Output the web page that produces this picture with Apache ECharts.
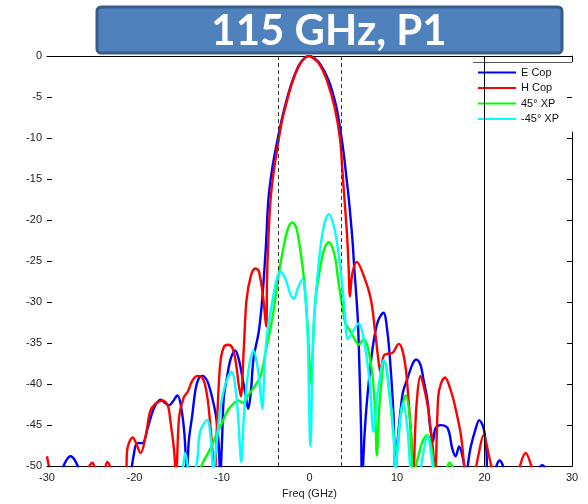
<!DOCTYPE html>
<html>
<head>
<meta charset="utf-8">
<script src="https://cdn.jsdelivr.net/npm/echarts@6/dist/echarts.min.js"></script>
<style>
html,body{margin:0;padding:0;background:#fff;}
#c{width:588px;height:504px;}
</style>
</head>
<body>
<div id="c"></div>
<script>
// ---- data (x = Freq in GHz, y = level in dB) ----
const titleText = '115 GHz, P1';
const xTicks = [-30, -20, -10, 0, 10, 20, 30];
const yTicks = [0, -5, -10, -15, -20, -25, -30, -35, -40, -45, -50];
const seriesNames = ['E Cop', 'H Cop', '45\u00b0 XP', '-45\u00b0 XP'];
const dashedMarkers = [-3.6, 3.6];
const solidMarker = 20;

const eCop = [[-30,-56],[-28.8,-53],[-28.3,-50.6],[-27.8,-49.3],[-27.3,-48.8],[-26.8,-49.3],[-26.3,-50.6],[-25.8,-53],[-23,-56],[-21,-53],[-20.45,-51],[-20.1,-48.7],[-19.7,-47.2],[-19.1,-47.2],[-18.5,-45.4],[-17.8,-43],[-17.0,-41.9],[-16.5,-42.3],[-16.1,-42.6],[-15.6,-42.1],[-15.1,-41.4],[-14.7,-42.6],[-14.3,-46],[-14.0,-51],[-13.8,-47],[-13.4,-43.8],[-13.0,-40.5],[-12.6,-39.2],[-12.2,-39],[-11.7,-39.6],[-11.3,-40.9],[-10.7,-43.8],[-10.4,-47],[-10.2,-51],[-10.0,-47],[-9.8,-41.7],[-9.4,-39],[-9.0,-36.9],[-8.5,-35.9],[-8.1,-36.9],[-7.7,-39],[-7.3,-41.4],[-7.0,-43],[-6.7,-40.9],[-6.4,-36.9],[-5.8,-33.6],[-5.4,-29.6],[-5.0,-23.5],[-4.7,-17.5],[-4.3,-14],[-3.8,-11],[-3.2,-7.9],[-2.7,-5.7],[-2.0,-3.2],[-1.2,-1.1],[-0.5,-0.2],[0,0],[0.6,-0.3],[1.3,-1.1],[2.2,-3],[3.0,-5.9],[3.5,-8.8],[3.9,-11.8],[4.2,-14.6],[4.5,-17.5],[4.9,-22.3],[5.1,-25.6],[5.5,-31.7],[5.7,-37.7],[5.9,-45.8],[6.0,-52],[6.3,-46],[6.6,-41.7],[7.2,-35.7],[7.8,-32.4],[8.45,-31.3],[8.9,-33.6],[9.25,-37.7],[9.6,-43.8],[9.8,-51],[10.1,-46.5],[10.4,-43.3],[10.7,-40.9],[11.2,-39.3],[11.8,-37.5],[12.2,-37],[12.7,-37.7],[13.0,-39.3],[13.5,-42.1],[13.8,-45.4],[14.1,-47],[14.4,-45.4],[15.0,-45],[15.8,-45.4],[16.3,-47.8],[16.7,-48.8],[17.1,-47.6],[17.6,-49.4],[17.85,-51],[18.4,-47.8],[19.0,-45.4],[19.4,-44.4],[19.9,-45.4],[20.2,-47.8],[20.45,-51],[21.1,-50.6],[21.7,-49.3],[22.3,-50.6],[23,-55],[25.5,-55],[26.1,-50.6],[26.6,-49.9],[27.1,-50.6],[28,-55],[30,-56]];

const hCop = [[-30,-48.8],[-29.6,-50.6],[-28,-54],[-26,-54],[-25.4,-50.6],[-24.8,-49.6],[-24.3,-50.6],[-23.6,-50.6],[-23.1,-49.5],[-22.6,-50.6],[-21.8,-53],[-21.0,-51],[-20.8,-47.8],[-20.2,-46.5],[-19.9,-47],[-19.3,-48.4],[-18.7,-46.2],[-18.2,-43.3],[-17.6,-42.4],[-16.8,-42],[-16.2,-42.6],[-15.9,-44.5],[-15.5,-47.8],[-15.25,-51],[-14.9,-44],[-14.4,-41.7],[-13.9,-40.9],[-13.4,-39.6],[-12.8,-39],[-12.2,-39.3],[-11.7,-41.4],[-11.3,-45.4],[-11.0,-49.4],[-10.85,-51],[-10.5,-43],[-10.2,-37.5],[-9.8,-35.5],[-9.3,-35.2],[-8.8,-35.6],[-8.4,-37.5],[-8.1,-40],[-7.85,-41.5],[-7.5,-35.5],[-7.2,-29.8],[-6.7,-26.8],[-6.2,-25.9],[-5.8,-26.2],[-5.3,-29.4],[-4.95,-33],[-4.85,-27],[-4.7,-22.3],[-4.45,-17.5],[-4.1,-14.2],[-3.7,-11.4],[-3.2,-8.2],[-2.75,-6.2],[-2.0,-3.3],[-1.2,-1.2],[-0.6,-0.3],[-0.15,0],[0.5,-0.3],[1.2,-1.1],[2.0,-3.0],[2.9,-6.4],[3.5,-10.2],[3.75,-13.8],[4.0,-17.5],[4.3,-22],[4.48,-26],[4.62,-29.3],[4.9,-26.5],[5.4,-25.1],[6.2,-26.8],[7.0,-29.6],[7.5,-33.6],[7.9,-37.3],[8.1,-38.5],[8.5,-36.5],[9.0,-36.3],[9.5,-36.2],[10.2,-35.1],[10.6,-35.8],[11.0,-38.1],[11.3,-41.7],[11.6,-46],[11.85,-51],[12.2,-43],[12.7,-39],[13.1,-40.5],[13.5,-42.6],[14.1,-47.8],[14.35,-51],[14.7,-41.7],[15.0,-40],[15.5,-39.2],[16.0,-40.3],[16.5,-42.1],[17.3,-46.2],[17.8,-51],[18.4,-54],[18.9,-51],[19.3,-48.7],[19.9,-46.2],[20.5,-48.7],[21.0,-51],[22,-55],[23.3,-54],[23.9,-50.6],[24.7,-48.4],[25.5,-50.6],[26.2,-54],[30,-56]];

const xp45 = [[-14,-56],[-13,-52],[-12.5,-50.3],[-12.1,-49.4],[-11.3,-47.8],[-10.5,-45.8],[-9.9,-44.5],[-9.4,-43.3],[-8.8,-42.5],[-8.1,-42],[-7.6,-42.3],[-7.1,-41.5],[-6.4,-40.5],[-5.6,-39],[-5.0,-36],[-4.2,-31.7],[-3.5,-26.5],[-3.0,-23.5],[-2.45,-21],[-1.95,-20.3],[-1.5,-21],[-1.0,-24],[-0.6,-27.5],[-0.25,-32.4],[0.05,-38],[0.2,-40],[0.4,-35],[0.7,-29.6],[1.26,-25.6],[1.7,-23.5],[2.2,-22.7],[2.6,-23.3],[2.97,-24.8],[3.3,-27.5],[3.8,-30.8],[4.1,-32.6],[4.7,-33.6],[5.3,-34.8],[5.6,-35.2],[6.2,-34.5],[6.7,-35.7],[7.2,-39],[7.5,-43.3],[7.7,-48.7],[8.0,-42.5],[8.6,-37.3],[9.2,-41.7],[9.6,-46],[10.0,-48.2],[10.4,-44],[11.0,-41.4],[11.5,-44.5],[11.9,-51],[12.5,-48.5],[13.0,-46.8],[13.5,-46.2],[14.0,-48.2],[14.5,-51],[15.5,-50.6],[16.0,-49.6],[16.5,-50.6],[17,-55]];

const xpm45 = [[-16,-56],[-15,-52],[-14.5,-50.2],[-14.2,-48.4],[-13.9,-50.2],[-13.6,-53],[-13.1,-51],[-12.8,-49],[-12.5,-45.8],[-11.7,-44.4],[-11.3,-46.5],[-11.0,-50.5],[-10.6,-47],[-10.2,-43],[-9.6,-40],[-8.9,-38.5],[-8.4,-41],[-8.1,-45],[-7.8,-49.5],[-7.5,-44],[-7.0,-38.5],[-6.4,-35.9],[-6.0,-37.5],[-5.7,-40],[-5.4,-43],[-5.1,-37],[-4.8,-33.6],[-4.2,-29.6],[-3.7,-27],[-3.3,-26.3],[-2.7,-27.3],[-2.2,-29],[-1.8,-29.6],[-1.3,-28.2],[-0.8,-27.2],[-0.5,-29],[-0.2,-34.5],[0.1,-47.6],[0.45,-33.5],[0.9,-27],[1.5,-21.5],[2.2,-19.3],[2.9,-21.3],[3.5,-25.6],[4.0,-30.8],[4.4,-34.5],[5.0,-33.5],[5.6,-32.6],[6.2,-34.5],[6.9,-40],[7.3,-45.8],[7.8,-41],[8.5,-37.1],[9.2,-41.5],[9.6,-46],[9.8,-51],[10.2,-46],[10.7,-42.3],[11.2,-45.5],[11.6,-51],[12.2,-53],[12.9,-49],[13.5,-46.3],[13.9,-48.5],[14.2,-51],[15,-55]];

const seriesData = [eCop, hCop, xp45, xpm45];
const seriesColors = ['#0000ff', '#ff0000', '#00ff00', '#00ffff'];

const FONT = "'Liberation Sans', Arial, sans-serif";
const chart = echarts.init(document.getElementById('c'), null, {renderer: 'canvas'});

const series = seriesNames.map((n, i) => ({
  name: n,
  type: 'line',
  data: seriesData[i],
  showSymbol: false,
  smooth: 0.35,
  clip: true,
  lineStyle: {color: seriesColors[i], width: 2.4},
  itemStyle: {color: seriesColors[i]},
  emphasis: {disabled: true},
  z: 2 + i
}));
series[0].markLine = {
  silent: true,
  symbol: ['none', 'none'],
  label: {show: false},
  animation: false,
  data: [
    {xAxis: dashedMarkers[0], lineStyle: {type: [4, 3], color: '#333', width: 1}},
    {xAxis: dashedMarkers[1], lineStyle: {type: [4, 3], color: '#333', width: 1}},
    {xAxis: solidMarker, lineStyle: {type: 'solid', color: '#000', width: 1}}
  ]
};

const baseGraphics = [
  {type: 'line', z: 100, shape: {x1: 473, y1: 62.5, x2: 572, y2: 62.5}, style: {stroke: '#555', lineWidth: 1}},
  {type: 'rect', z: 100, shape: {x: 97, y: 7, width: 465, height: 46, r: 4},
    style: {fill: '#4f81bd', stroke: '#385d8a', lineWidth: 3}},
  {type: 'text', z: 101, x: 329, y: 31,
    style: {text: titleText, fill: '#fff', font: "bold 42px Lato, 'Open Sans', sans-serif", textAlign: 'center', textVerticalAlign: 'middle'}}
];

chart.setOption({
  animation: false,
  backgroundColor: '#fff',
  grid: {left: 47, right: 16, top: 56, bottom: 36, containLabel: false},
  xAxis: [{
    type: 'value', min: xTicks[0], max: xTicks[xTicks.length - 1], interval: 10,
    position: 'bottom',
    name: 'Freq (GHz)', nameLocation: 'middle', nameGap: 19,
    nameTextStyle: {fontFamily: FONT, fontSize: 11, color: '#222'},
    axisLine: {show: true, onZero: false, lineStyle: {color: '#000', width: 1}},
    axisTick: {show: false},
    axisLabel: {fontFamily: FONT, fontSize: 11, color: '#222', margin: 6},
    splitLine: {show: false}
  }, {
    type: 'value', min: xTicks[0], max: xTicks[xTicks.length - 1], interval: 10,
    position: 'top',
    axisLine: {show: true, onZero: false, lineStyle: {color: '#000', width: 1}},
    axisTick: {show: false}, axisLabel: {show: false}, splitLine: {show: false}
  }],
  yAxis: [{
    type: 'value', min: yTicks[yTicks.length - 1], max: yTicks[0], interval: 5,
    position: 'left',
    axisLine: {show: false, onZero: false},
    axisTick: {show: false},
    axisLabel: {fontFamily: FONT, fontSize: 11, color: '#222', margin: 5},
    splitLine: {show: false}
  }, {
    type: 'value', min: yTicks[yTicks.length - 1], max: yTicks[0], interval: 5,
    position: 'right',
    axisLine: {show: true, onZero: false, lineStyle: {color: '#000', width: 1}},
    axisTick: {show: false},
    axisLabel: {show: false},
    splitLine: {show: false}
  }],
  legend: {
    orient: 'vertical',
    left: 473, top: 62,
    padding: [4, 14, 6, 5],
    backgroundColor: '#fff',
    itemWidth: 38, itemHeight: 2, itemGap: 2.5,
    selectedMode: false,
    textStyle: {fontFamily: FONT, fontSize: 11, color: '#111', lineHeight: 13},
    data: seriesNames.map((n, i) => ({name: n, icon: 'rect', itemStyle: {color: seriesColors[i]}}))
  },
  graphic: baseGraphics,
  series: series
});

// inward tick marks on left and right edges, positioned by the axis scales
const xl = chart.convertToPixel({xAxisIndex: 0}, xTicks[0]);
const xr = chart.convertToPixel({xAxisIndex: 0}, xTicks[xTicks.length - 1]);
const tickGraphics = [];
yTicks.forEach(v => {
  const py = Math.round(chart.convertToPixel({yAxisIndex: 0}, v)) + 0.5;
  tickGraphics.push({type: 'line', z: 50, shape: {x1: xl, y1: py, x2: xl + 5, y2: py}, style: {stroke: '#000', lineWidth: 1}});
  tickGraphics.push({type: 'line', z: 50, shape: {x1: xr - 5, y1: py, x2: xr, y2: py}, style: {stroke: '#000', lineWidth: 1}});
});
chart.setOption({graphic: baseGraphics.concat(tickGraphics)});
</script>
</body>
</html>
